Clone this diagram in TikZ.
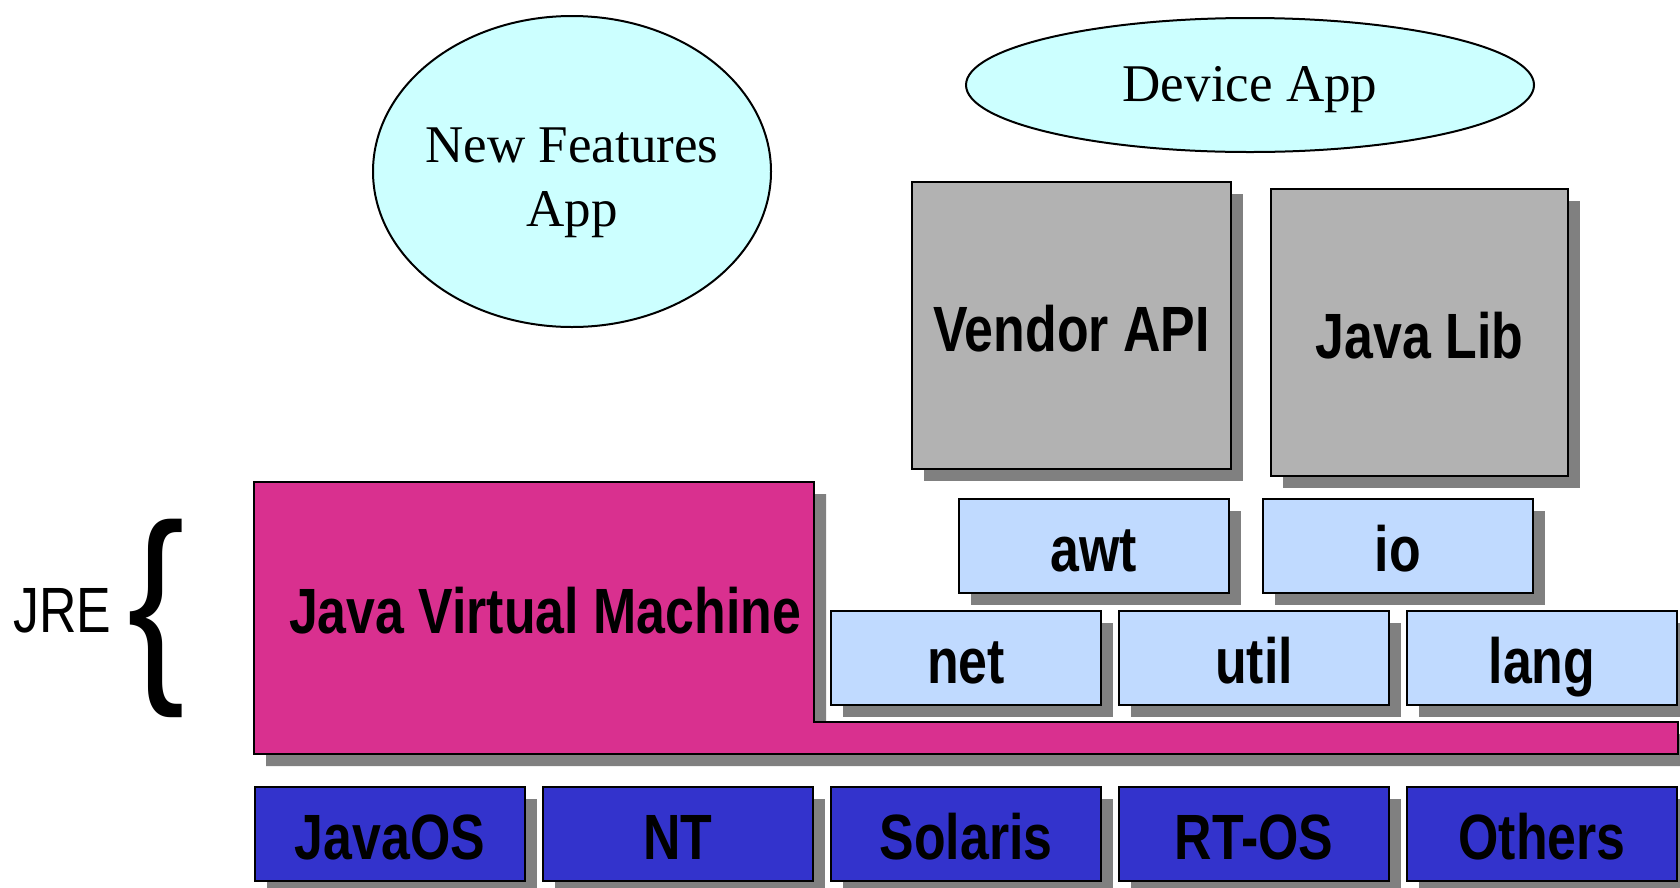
\documentclass[tikz,border=0pt]{standalone}
\usepackage{fontspec}
\setmainfont{Liberation Serif}
\newfontfamily\narrowsans[FakeStretch=0.81]{Liberation Sans}
\usetikzlibrary{shapes.geometric,shadows}
\definecolor{appcyan}{HTML}{CCFFFF}
\definecolor{libgray}{HTML}{B2B2B2}
\definecolor{shadowgray}{HTML}{808080}
\definecolor{pkgblue}{HTML}{C0DAFF}
\definecolor{jvmpink}{HTML}{D9308F}
\definecolor{osblue}{HTML}{3333CC}
\tikzset{
  sh/.style={drop shadow={shadow xshift=12pt, shadow yshift=-12pt, fill=shadowgray, opacity=1}},
  boxlabel/.style={font=\narrowsans\bfseries\fontsize{64}{76}\selectfont, text height=51pt, text depth=0pt},
  blockbox/.style={boxlabel, draw=black, line width=2.5pt, inner sep=0pt, sh},
  libbox/.style={blockbox, fill=libgray, minimum height=287pt},
  pkgbox/.style={blockbox, fill=pkgblue, minimum width=270pt, minimum height=94pt},
  osbox/.style={blockbox, fill=osblue, minimum width=270pt, minimum height=94pt},
  appell/.style={ellipse, draw=black, line width=2pt, fill=appcyan, inner sep=0pt},
  apptext/.style={font=\fontsize{53}{64}\selectfont, align=center, inner sep=0pt}
}
\begin{document}
\begin{tikzpicture}[x=1pt,y=-1pt]
\path[fill=white] (0,0) rectangle (1680,887);
\useasboundingbox (0,0) rectangle (1680,887);

% applications
\node[appell, minimum width=398pt, minimum height=311pt] (nfa) at (572,171.5) {};
\node[apptext] (nfatext) at (572,182.6) {New Features\\App};
\node[appell, minimum width=568pt, minimum height=134pt] (dev) at (1250,85) {};
\node[apptext] (devtext) at (1250,89.5) {Device App};

% libraries
\node[libbox, minimum width=319pt] (vendor) at (1071.5,325.5) {Vendor API};
\node[libbox, minimum width=297pt] (javalib) at (1419.5,332.5) {Java Lib};

% packages
\node[pkgbox] (awt) at (1094,546) {awt};
\node[pkgbox] (io) at (1398,546) {io};
\node[pkgbox] (net) at (966,658) {net};
\node[pkgbox] (util) at (1254,658) {util};
\node[pkgbox] (lang) at (1542,658) {lang};

% JVM (L shape)
\fill[shadowgray] (266,494) -- (826,494) -- (826,734) -- (1690,734) -- (1690,766) -- (266,766) -- cycle;
\draw[line width=2.5pt, fill=jvmpink] (254,482) -- (814,482) -- (814,722) -- (1678,722) -- (1678,754) -- (254,754) -- cycle;
\node[boxlabel, inner sep=0pt] (jvm) at (545,607.5) {Java Virtual Machine};

% operating systems
\node[osbox] (javaos) at (390,834) {JavaOS};
\node[osbox] (nt) at (678,834) {NT};
\node[osbox] (solaris) at (966,834) {Solaris};
\node[osbox] (rtos) at (1254,834) {RT-OS};
\node[osbox] (others) at (1542,834) {Others};

% JRE brace
\node[font=\narrowsans\fontsize{64}{76}\selectfont, text height=51pt, text depth=0pt, inner sep=0pt] (jre) at (62.5,607.4) {JRE};
\node[font=\narrowsans\fontsize{213}{240}\selectfont, inner sep=0pt] (brace) at (156,618) {\{};
\end{tikzpicture}
\end{document}
